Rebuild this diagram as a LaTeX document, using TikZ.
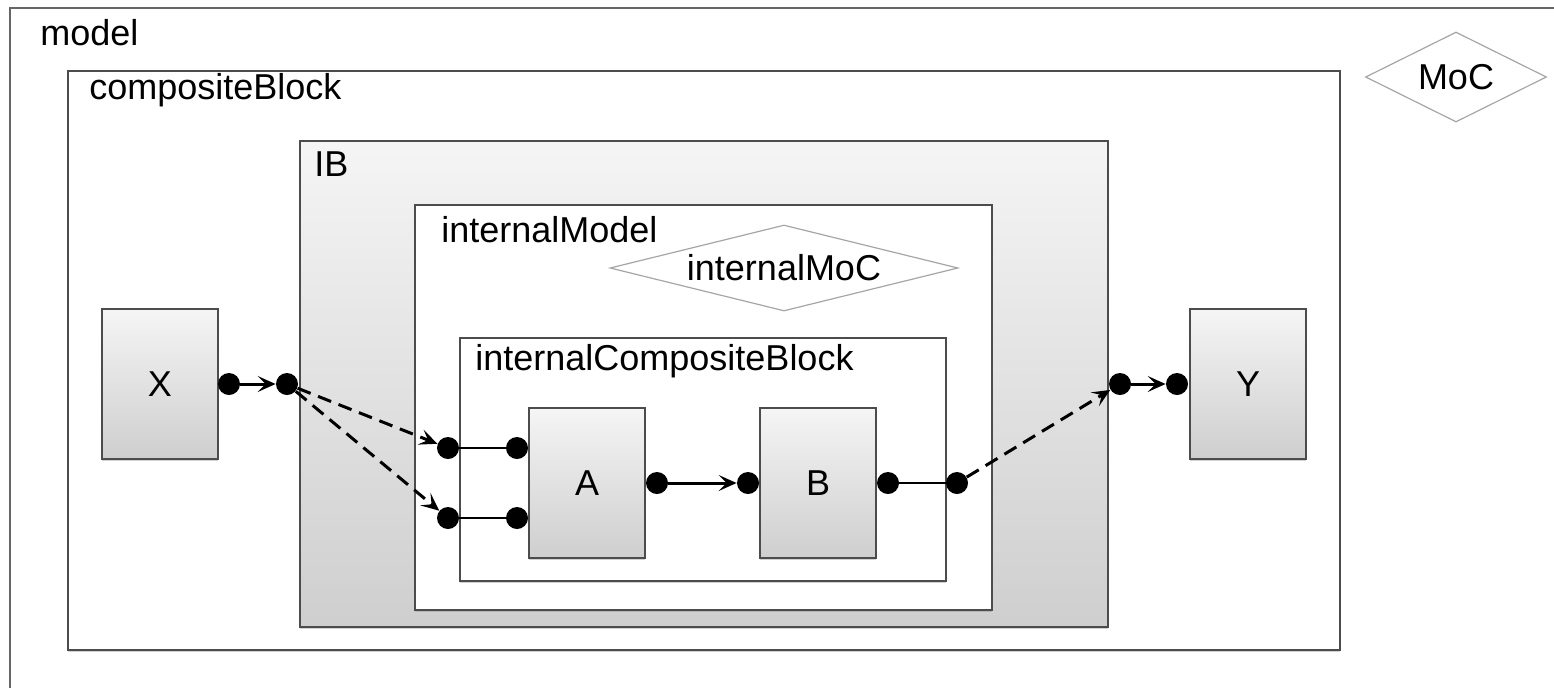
\documentclass[tikz,border=0pt]{standalone}
\usepackage{fontspec}
\setmainfont{Liberation Sans}
\usetikzlibrary{arrows.meta,shapes.geometric,shadows}

\tikzset{
  frame/.style={draw=black!70, line width=0.8pt, fill=white,
    drop shadow={shadow xshift=0pt, shadow yshift=-1pt, opacity=0.35}},
  shaded/.style={frame, top color=gray!8, bottom color=gray!38},
  block/.style={shaded, minimum width=58pt, minimum height=75pt,
    font=\fontsize{18}{22}\selectfont},
  port/.style={circle, fill=black, inner sep=0pt, minimum size=11pt},
  moc/.style={diamond, draw=black!35, line width=0.6pt, fill=white,
    inner sep=0pt, font=\fontsize{18}{22}\selectfont},
  tag/.style={anchor=base west, inner sep=0pt, font=\fontsize{18}{22}\selectfont},
  flow/.style={line width=1.5pt, -{Stealth[length=9pt, width=8pt, inset=4pt]}},
  relay/.style={flow, dash pattern=on 7pt off 4pt},
  wire/.style={line width=1.3pt}
}

\begin{document}
\begin{tikzpicture}[x=0.5pt, y=-0.5pt]
    \useasboundingbox (0, 0) rectangle (1554, 687);
    \clip (0, 0) rectangle (1554, 687);

    % Модель целиком (рамка уходит за край)
    \draw[draw=black!60, line width=0.6pt, fill=white] (10, 8) rectangle (1600, 720);
    \node[tag] (modelTag) at (40, 45) {model};
    \node[moc, aspect=2, minimum width=90.5pt, minimum height=45pt] (moc) at (1456, 77) {MoC};

    % Составной блок
    \draw[frame] (68, 71) rectangle (1340, 650);
    \node[tag] (compTag) at (89, 99) {compositeBlock};

    % Блок IB
    \draw[shaded] (300, 141) rectangle (1108, 627);
    \node[tag] (ibTag) at (314, 176) {IB};

    % Внутренняя модель
    \draw[frame] (415, 205) rectangle (992, 610);
    \node[tag] (imTag) at (441, 242) {internalModel};
    \node[moc, aspect=4, minimum width=174pt, minimum height=43pt] (imoc) at (784, 268) {internalMoC};

    % Внутренний составной блок
    \draw[frame] (460, 338) rectangle (946, 581);
    \node[tag] (icbTag) at (475, 370) {internalCompositeBlock};

    % Блоки
    \node[block] (X) at (160, 384) {X};
    \node[block] (Y) at (1248, 384) {Y};
    \node[block] (A) at (587, 483) {A};
    \node[block] (B) at (818, 483) {B};

    % Порты
    \node[port] (Xo) at (229, 384) {};
    \node[port] (IBi) at (287, 384) {};
    \node[port] (ICBi1) at (448, 448) {};
    \node[port] (ICBi2) at (448, 518) {};
    \node[port] (Ai1) at (517, 448) {};
    \node[port] (Ai2) at (517, 518) {};
    \node[port] (Ao) at (657, 483) {};
    \node[port] (Bi) at (748, 483) {};
    \node[port] (Bo) at (888, 483) {};
    \node[port] (ICBo) at (957, 483) {};
    \node[port] (IBo) at (1120, 384) {};
    \node[port] (Yi) at (1177, 384) {};

    % Связи
    \draw[flow] (Xo) -- (IBi);
    \draw[relay] (IBi) -- (ICBi1);
    \draw[relay] (IBi) -- (ICBi2);
    \draw[wire] (ICBi1) -- (Ai1);
    \draw[wire] (ICBi2) -- (Ai2);
    \draw[flow] (Ao) -- (Bi);
    \draw[wire] (Bo) -- (ICBo);
    \draw[relay] (ICBo) -- (IBo);
    \draw[flow] (IBo) -- (Yi);
\end{tikzpicture}
\end{document}
